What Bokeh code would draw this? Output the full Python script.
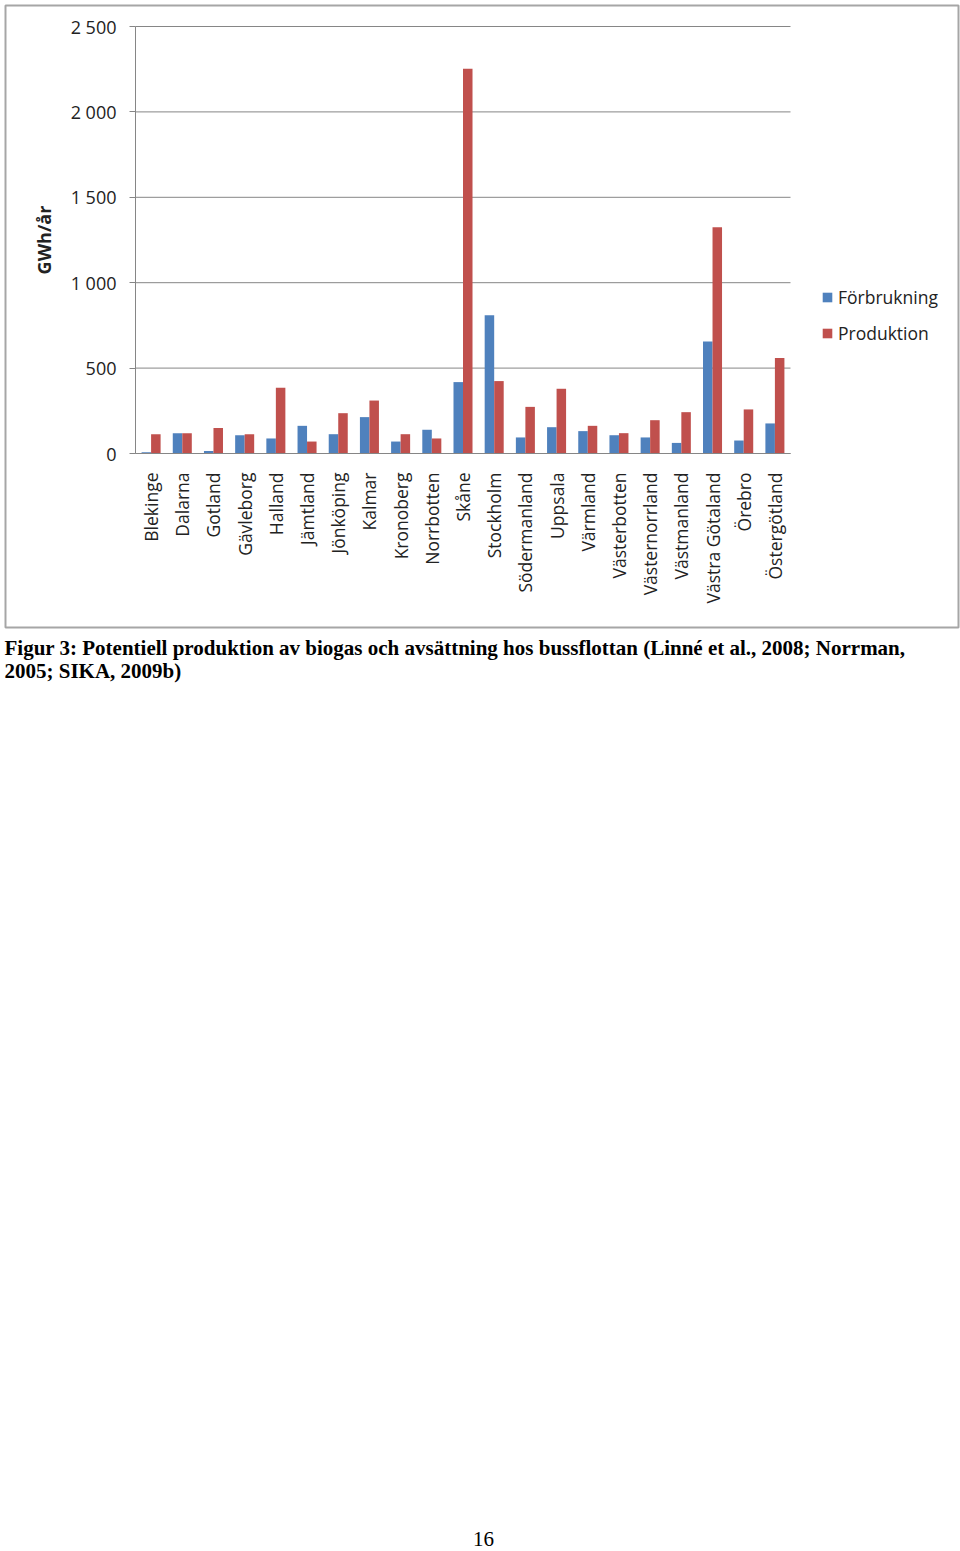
import math
from bokeh.plotting import figure
from bokeh.models import (Range1d, FixedTicker, Legend, LegendItem, ColumnDataSource,
                          Label, LinearAxis)
from bokeh.embed import file_html
from bokeh.resources import INLINE

regions = ["Blekinge", "Dalarna", "Gotland", "Gävleborg", "Halland", "Jämtland",
           "Jönköping", "Kalmar", "Kronoberg", "Norrbotten", "Skåne", "Stockholm",
           "Södermanland", "Uppsala", "Värmland", "Västerbotten", "Västernorrland",
           "Västmanland", "Västra Götaland", "Örebro", "Östergötland"]
forbrukning = [8, 119, 14, 107, 88, 162, 113, 213, 70, 139, 418, 810, 94, 154,
               131, 107, 94, 62, 656, 76, 176]
produktion = [113, 119, 150, 113, 385, 70, 236, 310, 113, 88, 2252, 424, 273, 379,
              162, 119, 195, 242, 1324, 258, 559]
y_ticks = [0, 500, 1000, 1500, 2000, 2500]
y_tick_labels = ["0", "500", "1 000", "1 500", "2 000", "2 500"]
series_names = ["Förbrukning", "Produktion"]
y_axis_title = "GWh/år"
caption_lines = [
    "Figur 3: Potentiell produktion av biogas och avsättning hos bussflottan (Linné et al., 2008; Norrman,",
    "2005; SIKA, 2009b)",
]
page_number = "16"

BLUE = "#4F81BD"
RED = "#C0504D"
GRID = "#868686"
FONT = "Open Sans"
TXT = "#222222"

# ---- layout geometry (canvas pixels, from top-left) ----
W, H = 960, 1551
FL, FR, FT, FB = 135, 790, 26, 453       # plot area of the chart
n = len(regions)
y_max = y_ticks[-1]
cat_w = (FR - FL) / n
ppu = (FB - FT) / y_max


def px_x(px):
    return (px - FL) / cat_w - 0.5


def px_y(py):
    return (FB - py) / ppu


idx = list(range(n))
off = 0.1525
src = ColumnDataSource(dict(
    xb=[i - off for i in idx], xr=[i + off for i in idx],
    f=forbrukning, p=produktion,
))

p = figure(width=W, height=H, x_range=Range1d(px_x(0), px_x(W)),
           y_range=Range1d(px_y(H), px_y(0)), output_backend="svg",
           toolbar_location=None, min_border=0,
           x_axis_location=None, y_axis_location=None)
p.outline_line_color = None
p.grid.visible = False

# horizontal gridlines across the plot area only
p.segment(x0=[-0.5] * len(y_ticks), x1=[n - 0.5] * len(y_ticks), y0=y_ticks, y1=y_ticks,
          line_color=GRID, line_width=1)

r1 = p.vbar(x="xb", top="f", width=2 * off, bottom=0, source=src,
            fill_color=BLUE, line_color=None)
r2 = p.vbar(x="xr", top="p", width=2 * off, bottom=0, source=src,
            fill_color=RED, line_color=None)

yaxis = LinearAxis(fixed_location=-0.5, bounds=(0, y_max),
                   ticker=FixedTicker(ticks=y_ticks))
yaxis.major_label_overrides = {t: l for t, l in zip(y_ticks, y_tick_labels)}
yaxis.axis_line_color = GRID
yaxis.major_tick_line_color = GRID
yaxis.major_tick_out = 6
yaxis.major_tick_in = 0
yaxis.minor_tick_line_color = None
yaxis.major_label_standoff = 13
yaxis.major_label_text_font = FONT
yaxis.major_label_text_font_size = "18px"
yaxis.major_label_text_color = TXT
yaxis.axis_label = y_axis_title
yaxis.axis_label_text_font = FONT
yaxis.axis_label_text_font_size = "18px"
yaxis.axis_label_text_font_style = "bold"
yaxis.axis_label_text_color = TXT
yaxis.axis_label_standoff = 12
p.add_layout(yaxis, "left")

xaxis = LinearAxis(fixed_location=0, bounds=(-0.5, n - 0.5),
                   ticker=FixedTicker(ticks=idx))
xaxis.major_label_overrides = {i: name for i, name in zip(idx, regions)}
xaxis.major_label_orientation = math.pi / 2
xaxis.axis_line_color = GRID
xaxis.major_tick_line_color = None
xaxis.minor_tick_line_color = None
xaxis.major_label_standoff = 13
xaxis.major_label_text_font = FONT
xaxis.major_label_text_font_size = "17.5px"
xaxis.major_label_text_color = TXT
p.add_layout(xaxis, "below")

legend = Legend(items=[LegendItem(label=series_names[0], renderers=[r1]),
                       LegendItem(label=series_names[1], renderers=[r2])],
                location=(821, H - 345), glyph_width=12, glyph_height=12,
                label_standoff=5, label_height=20, spacing=12, padding=0, margin=0,
                border_line_color=None, background_fill_alpha=0,
                label_text_font=FONT, label_text_font_size="17.5px",
                label_text_color=TXT)
p.add_layout(legend, "center")

# chart box border
p.quad(left=[px_x(5)], right=[px_x(958)], top=[px_y(5)], bottom=[px_y(627)],
       fill_alpha=0, line_color="#a6a6a6", line_width=2)

for line, py in zip(caption_lines, [647, 670.5]):
    p.add_layout(Label(x=px_x(4), y=px_y(py), text=line,
                       text_font="Liberation Serif", text_font_style="bold",
                       text_font_size="21px", text_color="#000000",
                       text_baseline="alphabetic", text_align="left"))
p.add_layout(Label(x=px_x(483), y=px_y(1538), text=page_number,
                   text_font="Liberation Serif", text_font_size="21px",
                   text_color="#000000", text_baseline="alphabetic",
                   text_align="center"))

open("out.html", "w").write(file_html(p, INLINE))
